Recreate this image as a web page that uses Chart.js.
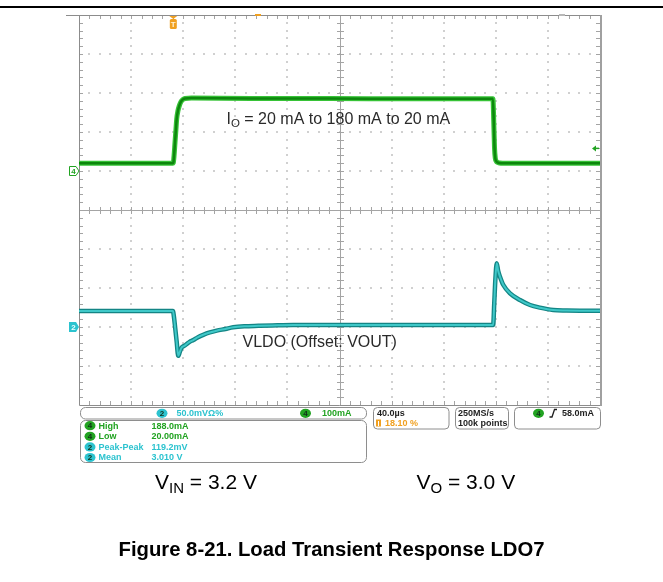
<!DOCTYPE html>
<html>
<head>
<meta charset="utf-8">
<title>Load Transient Response LDO7</title>
<script src="https://cdn.jsdelivr.net/npm/chart.js@4.4.0/dist/chart.umd.min.js"></script>
<style>
	html, body { margin: 0; padding: 0; background: #fff; }
	canvas { display: block; }
</style>
</head>
<body>
<canvas id="scope" width="663" height="582"></canvas>
<script>
'use strict';

// Scope settings
var timePerDivUs = 40.0,
	triggerPosPercent = 18.10,
	currentPerDivMa = 100,
	voltagePerDivMv = 50.0,
	triggerLevelMa = 58.0,
	ch4OffsetDiv = 1, // ground marker of ch4, divisions above centre
	ch2OffsetDiv = -3; // ground marker of ch2

// Channel 4: load current (mA) against time from trigger (us)
var ioTimeUs = [-72.4, -40, -10, -0.4, 0.0, 0.6, 1.3, 2.0, 2.6, 3.6, 4.6, 5.5, 6.4, 7.6, 9.0,
	14, 60, 120, 180, 240, 245.4, 246.0, 246.6, 247.2, 248.0, 249.0, 250.5, 253, 270, 300, 327.6];
var ioCurrentMa = [20, 20, 20, 20, 21, 40, 73, 105, 133, 155, 167, 175, 180, 184, 186,
	187, 186, 186, 185, 185, 185, 130, 60, 33, 25, 22, 20.5, 20, 20, 20, 20];

// Channel 2: LDO output with VOUT offset removed (mV) against time from trigger (us)
var vldoTimeUs = [-72.4, -40, -10, -0.3, 0.5, 1.5, 2.6, 3.8, 5.0, 6.2, 7.4, 8.6, 10.3, 12.5,
	15.4, 19, 23, 28, 33.3, 40, 46, 56, 66.5, 80, 92, 120, 160, 200, 245.6, 246.4, 247.3,
	248.3, 249.4, 250.8, 253.4, 258.5, 266.2, 273.9, 281.5, 291.7, 302, 312.2, 327.6];
var vldoMv = [20.5, 20.5, 20.5, 20.5, 13, -2, -19, -37, -32, -27, -25, -24, -21.8, -19,
	-16.7, -13, -10, -7, -4.7, -2.5, -0.4, 1, 1.7, 2.2, 2.6, 2.6, 2.6, 2.6, 2.6, 30, 62,
	81.7, 72, 64.5, 53.8, 43.2, 34.6, 28.2, 24.8, 21.8, 21.2, 20.9, 20.7];

// Measurement panel
var measChannels = [4, 4, 2, 2],
	measNames = ['High', 'Low', 'Peak-Peak', 'Mean'],
	measValues = ['188.0mA', '20.00mA', '119.2mV', '3.010 V'];

var SANS = '"Liberation Sans", Arial, sans-serif',
	GREEN = '#22a322',
	CYAN = '#2cc3cf',
	ORANGE = '#f0a020',
	xMin = -triggerPosPercent / 100 * 10 * timePerDivUs;

function toPoints(xs, ys) {
	return xs.map(function (x, i) {
		return { x: x, y: ys[i] };
	});
}

function roundRect(ctx, x, y, w, h, r) {
	ctx.beginPath();
	ctx.moveTo(x + r, y);
	ctx.arcTo(x + w, y, x + w, y + h, r);
	ctx.arcTo(x + w, y + h, x, y + h, r);
	ctx.arcTo(x, y + h, x, y, r);
	ctx.arcTo(x, y, x + w, y, r);
	ctx.closePath();
}

function badge(ctx, cx, cy, num, fill) {
	ctx.fillStyle = fill;
	ctx.beginPath();
	ctx.ellipse(cx, cy, 5.5, 4.6, 0, 0, Math.PI * 2);
	ctx.fill();
	ctx.fillStyle = '#10301a';
	ctx.font = 'bold 8px ' + SANS;
	ctx.textAlign = 'center';
	ctx.textBaseline = 'middle';
	ctx.fillText(String(num), cx, cy + 0.5);
	ctx.textAlign = 'left';
}

// Text with one subscript part, e.g. V + IN
function subText(ctx, x, y, main, sub, rest, size, subSize) {
	ctx.textBaseline = 'alphabetic';
	ctx.textAlign = 'left';
	ctx.font = size + 'px ' + SANS;
	ctx.fillText(main, x, y);
	x += ctx.measureText(main).width;
	ctx.font = subSize + 'px ' + SANS;
	ctx.fillText(sub, x, y + subSize * 0.28);
	x += ctx.measureText(sub).width;
	ctx.font = size + 'px ' + SANS;
	ctx.fillText(rest, x, y);
}

function drawGraticule(chart) {
	var ctx = chart.ctx,
		sx = chart.scales.x,
		sy = chart.scales.yV,
		xs = [],
		ys = [],
		i, j, k, px, py, dx, dy;

	for (i = 0; i <= 10; i++) {
		xs.push(Math.round(sx.getPixelForValue(sx.min + i * timePerDivUs)));
		ys.push(Math.round(sy.getPixelForValue(sy.min + i * voltagePerDivMv)));
	}
	dx = (xs[10] - xs[0]) / 50;
	dy = (ys[0] - ys[10]) / 50;

	ctx.save();
	// dotted division lines
	ctx.fillStyle = '#d0d0d0';
	for (j = 1; j < 10; j++) {
		if (j === 5) {
			continue;
		}
		for (k = 1; k < 50; k++) {
			ctx.fillRect(Math.round(xs[0] + k * dx) - 1, ys[j] - 1, 2, 2);
			ctx.fillRect(xs[j] - 1, Math.round(ys[10] + k * dy) - 1, 2, 2);
		}
	}

	// centre cross with minor ticks
	ctx.strokeStyle = '#a4a4a4';
	ctx.lineWidth = 1;
	ctx.beginPath();
	ctx.moveTo(xs[0], ys[5] + 0.5);
	ctx.lineTo(xs[10], ys[5] + 0.5);
	ctx.moveTo(xs[5] + 0.5, ys[10]);
	ctx.lineTo(xs[5] + 0.5, ys[0]);
	for (k = 1; k < 50; k++) {
		px = Math.round(xs[0] + k * dx) + 0.5;
		py = Math.round(ys[10] + k * dy) + 0.5;
		ctx.moveTo(px, ys[5] - 3);
		ctx.lineTo(px, ys[5] + 4);
		ctx.moveTo(xs[5] - 3, py);
		ctx.lineTo(xs[5] + 4, py);
		// edge ticks
		ctx.moveTo(px, ys[10]);
		ctx.lineTo(px, ys[10] + 4);
		ctx.moveTo(px, ys[0]);
		ctx.lineTo(px, ys[0] - 4);
		ctx.moveTo(xs[0], py);
		ctx.lineTo(xs[0] + 4, py);
		ctx.moveTo(xs[10], py);
		ctx.lineTo(xs[10] - 4, py);
	}
	ctx.stroke();

	// frame
	ctx.strokeStyle = '#8c8c8c';
	ctx.beginPath();
	ctx.moveTo(xs[0] + 0.5, ys[10]);
	ctx.lineTo(xs[0] + 0.5, ys[0] + 0.5);
	ctx.lineTo(xs[10], ys[0] + 0.5);
	ctx.moveTo(xs[0] - 13, ys[10] + 0.5);
	ctx.lineTo(xs[10], ys[10] + 0.5);
	ctx.stroke();
	ctx.lineWidth = 2;
	ctx.strokeStyle = '#a0a0a0';
	ctx.beginPath();
	ctx.moveTo(xs[10] + 1, ys[10]);
	ctx.lineTo(xs[10] + 1, ys[0] + 1);
	ctx.stroke();
	ctx.restore();
}

function drawMarkers(chart) {
	var ctx = chart.ctx,
		a = chart.chartArea,
		tx = chart.scales.x.getPixelForValue(0),
		y4 = chart.scales.yI.getPixelForValue(0),
		y2 = chart.scales.yV.getPixelForValue(0),
		yt = chart.scales.yI.getPixelForValue(triggerLevelMa);

	ctx.save();
	// trigger position marker
	ctx.fillStyle = ORANGE;
	ctx.beginPath();
	ctx.moveTo(tx - 4, a.top + 1);
	ctx.lineTo(tx + 4, a.top + 1);
	ctx.lineTo(tx, a.top + 4);
	ctx.fill();
	roundRect(ctx, tx - 3.5, a.top + 4, 7, 10, 1.5);
	ctx.fill();
	ctx.fillStyle = '#fff3d8';
	ctx.font = 'bold 8px ' + SANS;
	ctx.textAlign = 'center';
	ctx.textBaseline = 'middle';
	ctx.fillText('T', tx, a.top + 9.5);

	// expansion point and record markers on top edge
	ctx.fillStyle = ORANGE;
	ctx.fillRect(255, a.top - 1, 6, 2);
	ctx.fillStyle = '#b8b8b8';
	ctx.fillRect(559, a.top - 1, 6, 2);

	// ch4 ground marker (outlined)
	ctx.lineWidth = 1;
	ctx.strokeStyle = GREEN;
	ctx.fillStyle = '#fff';
	ctx.beginPath();
	ctx.moveTo(a.left - 9.5, y4 - 4.5);
	ctx.lineTo(a.left - 3, y4 - 4.5);
	ctx.lineTo(a.left, y4);
	ctx.lineTo(a.left - 3, y4 + 4.5);
	ctx.lineTo(a.left - 9.5, y4 + 4.5);
	ctx.closePath();
	ctx.fill();
	ctx.stroke();
	ctx.fillStyle = GREEN;
	ctx.fillText('4', a.left - 5.5, y4 + 0.5);

	// ch2 ground marker (filled)
	ctx.fillStyle = CYAN;
	ctx.beginPath();
	ctx.moveTo(a.left - 10, y2 - 5);
	ctx.lineTo(a.left - 3, y2 - 5);
	ctx.lineTo(a.left, y2);
	ctx.lineTo(a.left - 3, y2 + 5);
	ctx.lineTo(a.left - 10, y2 + 5);
	ctx.closePath();
	ctx.fill();
	ctx.fillStyle = '#eaffff';
	ctx.fillText('2', a.left - 5.5, y2 + 0.5);

	// trigger level arrow
	ctx.strokeStyle = GREEN;
	ctx.fillStyle = GREEN;
	ctx.lineWidth = 1.5;
	ctx.beginPath();
	ctx.moveTo(a.right - 5, yt);
	ctx.lineTo(a.right - 1, yt);
	ctx.stroke();
	ctx.beginPath();
	ctx.moveTo(a.right - 8, yt);
	ctx.lineTo(a.right - 4, yt - 3);
	ctx.lineTo(a.right - 4, yt + 3);
	ctx.fill();
	ctx.restore();
}

function drawStatus(chart) {
	var ctx = chart.ctx,
		i, y;

	ctx.save();
	ctx.strokeStyle = '#8e8e8e';
	ctx.lineWidth = 1;
	roundRect(ctx, 80.5, 407.5, 286, 11.5, 5);
	ctx.stroke();
	roundRect(ctx, 80.5, 420.5, 286, 42, 5);
	ctx.stroke();
	roundRect(ctx, 373.5, 407.5, 75.5, 21.5, 4);
	ctx.stroke();
	roundRect(ctx, 455.5, 407.5, 53, 21.5, 4);
	ctx.stroke();
	roundRect(ctx, 514.5, 407.5, 86, 21.5, 4);
	ctx.stroke();

	// vertical scale
	badge(ctx, 162, 413.3, 2, CYAN);
	badge(ctx, 305.5, 413.3, 4, GREEN);
	ctx.font = 'bold 9px ' + SANS;
	ctx.textBaseline = 'middle';
	ctx.fillStyle = CYAN;
	ctx.fillText(voltagePerDivMv.toFixed(1) + 'mVΩ%', 176.5, 413.5);
	ctx.fillStyle = GREEN;
	ctx.fillText(currentPerDivMa + 'mA', 322, 413.5);

	// measurements
	for (i = 0; i < measNames.length; i++) {
		y = 425.7 + i * 10.6;
		badge(ctx, 90, y, measChannels[i], measChannels[i] === 4 ? GREEN : CYAN);
		ctx.font = 'bold 9px ' + SANS;
		ctx.textBaseline = 'middle';
		ctx.fillStyle = measChannels[i] === 4 ? GREEN : CYAN;
		ctx.fillText(measNames[i], 98.5, y + 0.5);
		ctx.fillText(measValues[i], 151.5, y + 0.5);
	}

	// timebase, sample rate, trigger
	ctx.fillStyle = '#1e1e1e';
	ctx.fillText(timePerDivUs.toFixed(1) + 'µs', 377, 413.5);
	ctx.fillText('250MS/s', 458, 413.5);
	ctx.fillText('100k points', 458, 423.5);
	ctx.fillText(triggerLevelMa.toFixed(1) + 'mA', 562, 413.5);
	ctx.fillStyle = ORANGE;
	ctx.fillRect(376, 419.5, 5, 7);
	ctx.fillStyle = '#fff';
	ctx.fillRect(378, 421, 1, 5);
	ctx.fillStyle = ORANGE;
	ctx.fillText(triggerPosPercent.toFixed(2) + ' %', 385, 423.5);
	badge(ctx, 538.5, 413.3, 4, GREEN);
	ctx.strokeStyle = '#1e1e1e';
	ctx.lineWidth = 1.3;
	ctx.beginPath();
	ctx.moveTo(549.5, 417);
	ctx.lineTo(552, 417);
	ctx.lineTo(554.5, 409.5);
	ctx.lineTo(557, 409.5);
	ctx.stroke();
	ctx.restore();
}

var scopePlugin = {
	id: 'scopeScreen',
	beforeDraw: function (chart) {
		var ctx = chart.ctx;
		ctx.save();
		ctx.fillStyle = '#fff';
		ctx.fillRect(0, 0, chart.width, chart.height);
		// page rule above the figure
		ctx.fillStyle = '#000';
		ctx.fillRect(0, 6, chart.width, 2);
		ctx.restore();
	},
	beforeDatasetsDraw: function (chart) {
		drawGraticule(chart);
	},
	afterDatasetsDraw: function (chart) {
		var ctx = chart.ctx;
		drawMarkers(chart);
		drawStatus(chart);

		ctx.save();
		ctx.fillStyle = '#2a2a2a';
		subText(ctx, 226.5, 123.5, 'I', 'O', ' = 20 mA to 180 mA to 20 mA', 16, 11.5);
		ctx.font = '16px ' + SANS;
		ctx.fillText('VLDO (Offset: VOUT)', 242.5, 347);

		ctx.fillStyle = '#000';
		subText(ctx, 155, 489, 'V', 'IN', ' = 3.2 V', 21, 15);
		subText(ctx, 416.5, 489, 'V', 'O', ' = 3.0 V', 21, 15);
		ctx.font = 'bold 20.3px ' + SANS;
		ctx.textAlign = 'center';
		ctx.fillText('Figure 8-21. Load Transient Response LDO7', 331.5, 556);
		ctx.restore();
	}
};

var traceDefaults = {
	pointRadius: 0,
	fill: false,
	cubicInterpolationMode: 'monotone',
	borderJoinStyle: 'round',
	borderCapStyle: 'round'
};

new Chart(document.getElementById('scope'), {
	type: 'line',
	data: {
		datasets: [
			Object.assign({}, traceDefaults, {
				label: 'IO band',
				data: toPoints(ioTimeUs, ioCurrentMa),
				yAxisID: 'yI',
				borderColor: '#37c337',
				borderWidth: 5,
				order: 4
			}),
			Object.assign({}, traceDefaults, {
				label: 'IO',
				data: toPoints(ioTimeUs, ioCurrentMa),
				yAxisID: 'yI',
				borderColor: '#0d870d',
				borderWidth: 2.5,
				order: 3
			}),
			Object.assign({}, traceDefaults, {
				label: 'VLDO band',
				data: toPoints(vldoTimeUs, vldoMv),
				yAxisID: 'yV',
				borderColor: '#138585',
				borderWidth: 4.5,
				order: 2
			}),
			Object.assign({}, traceDefaults, {
				label: 'VLDO',
				data: toPoints(vldoTimeUs, vldoMv),
				yAxisID: 'yV',
				borderColor: '#3fc8c8',
				borderWidth: 2,
				order: 1
			})
		]
	},
	options: {
		responsive: false,
		animation: false,
		devicePixelRatio: 1,
		layout: {
			padding: { left: 79, top: 15, right: 63, bottom: 177 }
		},
		scales: {
			x: {
				type: 'linear',
				display: false,
				min: xMin,
				max: xMin + 10 * timePerDivUs
			},
			yI: {
				type: 'linear',
				display: false,
				min: (-5 - ch4OffsetDiv) * currentPerDivMa,
				max: (5 - ch4OffsetDiv) * currentPerDivMa
			},
			yV: {
				type: 'linear',
				display: false,
				min: (-5 - ch2OffsetDiv) * voltagePerDivMv,
				max: (5 - ch2OffsetDiv) * voltagePerDivMv
			}
		},
		plugins: {
			legend: { display: false },
			tooltip: { enabled: false }
		}
	},
	plugins: [scopePlugin]
});
</script>
</body>
</html>
